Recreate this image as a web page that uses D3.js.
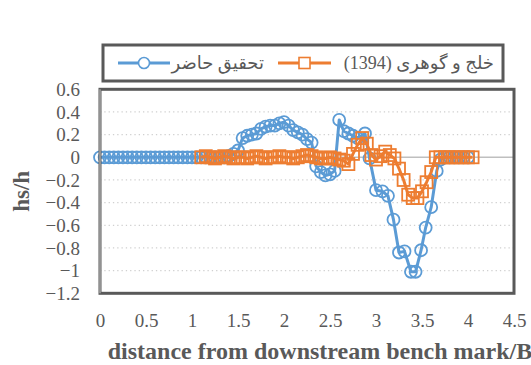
<!DOCTYPE html>
<html>
<head>
<meta charset="utf-8">
<script src="https://cdnjs.cloudflare.com/ajax/libs/d3/7.8.5/d3.min.js"></script>
<style>
  body { margin: 0; background: #fff; }
  svg text { font-family: "Liberation Serif", "DejaVu Sans", serif; }
</style>
</head>
<body>
<div id="chart"></div>
<script>
// series data: distance/B and hs/h
var blueX = [0,0.05,0.1,0.15,0.2,0.25,0.3,0.35,0.4,0.45,0.5,0.55,0.6,0.65,0.7,0.75,0.8,0.85,0.9,0.95,1,
  1.05,1.1,1.15,1.2,1.25,1.3,1.35,1.4,1.45,1.5,1.55,1.6,1.65,1.7,1.75,1.8,1.85,1.9,1.95,2,2.05,2.1,2.15,2.2,2.25,2.3,
  2.35,2.4,2.45,2.5,2.55,2.6,2.65,2.7,2.75,2.8,2.88,2.93,3,3.07,3.13,3.19,3.25,3.31,3.38,3.43,3.49,3.54,3.6,3.66,3.7,
  3.75,3.8,3.85,3.9,3.95,4];
var blueY = [0,0,0,0,0,0,0,0,0,0,0,0,0,0,0,0,0,0,0,0,0,
  0,0,0,0,0,0,0,0.01,0.03,0.06,0.17,0.19,0.2,0.21,0.25,0.27,0.28,0.28,0.3,0.31,0.28,0.24,0.22,0.2,0.16,0.13,
  -0.08,-0.13,-0.16,-0.15,-0.12,0.33,0.23,0.21,0.19,0.17,0.21,-0.01,-0.29,-0.3,-0.34,-0.55,-0.84,-0.83,-1.01,-1.01,-0.82,-0.62,-0.44,-0.12,-0.02,
  0,0,0,0,0,0];

var orangeX = [1.1,1.15,1.2,1.25,1.3,1.35,1.4,1.45,1.5,1.55,1.6,1.65,1.7,1.75,1.8,1.85,1.9,1.95,2,2.05,2.1,2.15,2.2,2.25,2.3,2.35,2.4,2.45,
  2.5,2.55,2.6,2.65,2.7,2.75,2.8,2.85,2.9,2.95,3,3.05,3.1,3.15,3.2,3.25,3.3,3.35,3.4,3.45,3.5,3.55,3.6,3.65,
  3.7,3.75,3.8,3.85,3.9,3.95,4,4.05];
var orangeY = [0,0.01,0,-0.01,0,0.01,0,-0.01,0,0,-0.01,0,0.01,0,-0.01,0,0,0.01,0,0,-0.01,0,0.01,0.02,0.01,0,-0.01,-0.01,
  0,-0.01,-0.02,-0.03,-0.06,0.03,0.11,0.17,0.12,0.02,-0.02,0.01,0.05,0.02,-0.01,-0.1,-0.2,-0.33,-0.36,-0.36,-0.3,-0.22,-0.13,0,
  0,0,0,0,0,0,0,0];

var xTicks = [0,0.5,1,1.5,2,2.5,3,3.5,4,4.5];
var yTicks = [0.6,0.4,0.2,0,-0.2,-0.4,-0.6,-0.8,-1,-1.2];
var seriesNames = ["تحقیق حاضر", "خلج و گوهری (1394)"];

var W = 531, H = 365;
var plotL = 100, plotR = 514, plotT = 89.3, plotB = 293.3;
var grey = "#595959";

var svg = d3.select("#chart").append("svg").attr("width", W).attr("height", H);

var x = d3.scaleLinear().domain([0, 4.5]).range([plotL, plotR]);
var y = d3.scaleLinear().domain([-1.2, 0.6]).range([plotB, plotT]);

// gridlines
svg.append("g").selectAll("line")
  .data(yTicks.filter(function(d){ return d !== 0; }))
  .enter().append("line")
  .attr("x1", plotL).attr("x2", plotR)
  .attr("y1", function(d){ return y(d); }).attr("y2", function(d){ return y(d); })
  .attr("stroke", "#d0d0d0").attr("stroke-width", 1.3).attr("stroke-dasharray", "1.3,3");

// zero axis line
svg.append("line")
  .attr("x1", plotL).attr("x2", plotR).attr("y1", y(0)).attr("y2", y(0))
  .attr("stroke", "#bfbfbf").attr("stroke-width", 1.5);

// y axis
var yAxis = svg.append("g").attr("transform", "translate(" + (plotL - 12) + ",0)")
  .call(d3.axisLeft(y).tickValues(yTicks).tickSize(0).tickFormat(d3.format("")));
yAxis.select(".domain").remove();
yAxis.selectAll("text").attr("font-size", 19).attr("fill", grey).attr("dy", "0.32em").attr("x", -8);

// x axis
var xAxis = svg.append("g").attr("transform", "translate(0," + (plotB + 14) + ")")
  .call(d3.axisBottom(x).tickValues(xTicks).tickSize(0).tickFormat(d3.format("")));
xAxis.select(".domain").remove();
xAxis.selectAll("text").attr("font-size", 19).attr("fill", grey).attr("dy", "0.71em").attr("y", 6);

// axis titles
svg.append("text").attr("x", 320).attr("y", 359)
  .attr("text-anchor", "middle").attr("font-size", 24).attr("font-weight", "bold").attr("fill", grey)
  .text("distance from downstream bench mark/B");
svg.append("text").attr("transform", "translate(29," + ((plotT + plotB) / 2) + ") rotate(-90)")
  .attr("text-anchor", "middle").attr("font-size", 23).attr("font-weight", "bold").attr("fill", grey)
  .text("hs/h");

var line = d3.line().x(function(d){ return x(d[0]); }).y(function(d){ return y(d[1]); });

var blue = blueX.map(function(v, i){ return [v, blueY[i]]; });
var orange = orangeX.map(function(v, i){ return [v, orangeY[i]]; });

// blue series
svg.append("path").datum(blue).attr("d", line)
  .attr("fill", "none").attr("stroke", "#5B9BD5").attr("stroke-width", 3).attr("stroke-linejoin", "round");
svg.append("g").selectAll("circle").data(blue).enter().append("circle")
  .attr("cx", function(d){ return x(d[0]); }).attr("cy", function(d){ return y(d[1]); })
  .attr("r", 6).attr("fill", "none").attr("stroke", "#5B9BD5").attr("stroke-width", 1.8);

// orange series
svg.append("path").datum(orange).attr("d", line)
  .attr("fill", "none").attr("stroke", "#ED7D31").attr("stroke-width", 3).attr("stroke-linejoin", "round");
svg.append("g").selectAll("rect").data(orange).enter().append("rect")
  .attr("x", function(d){ return x(d[0]) - 6; }).attr("y", function(d){ return y(d[1]) - 6; })
  .attr("width", 12).attr("height", 12).attr("fill", "none").attr("stroke", "#ED7D31").attr("stroke-width", 1.8);

// plot frame
svg.append("rect").attr("x", plotL).attr("y", plotT).attr("width", plotR - plotL).attr("height", plotB - plotT)
  .attr("fill", "none").attr("stroke", grey).attr("stroke-width", 3);
svg.append("line").attr("x1", plotL).attr("x2", plotL).attr("y1", plotT).attr("y2", plotB)
  .attr("stroke", "#a6a6a6").attr("stroke-width", 1.5);

// legend
var lg = svg.append("g");
lg.append("rect").attr("x", 103).attr("y", 45).attr("width", 400).attr("height", 36)
  .attr("fill", "#fff").attr("stroke", grey).attr("stroke-width", 3);
var items = [
  {name: seriesNames[0], color: "#5B9BD5", x1: 118, x2: 170, textX: 264, marker: "circle"},
  {name: seriesNames[1], color: "#ED7D31", x1: 278, x2: 331, textX: 494, marker: "square"}
];
items.forEach(function(it){
  var ly = 63;
  lg.append("line").attr("x1", it.x1).attr("x2", it.x2).attr("y1", ly).attr("y2", ly)
    .attr("stroke", it.color).attr("stroke-width", 3);
  var cx = (it.x1 + it.x2) / 2;
  if (it.marker === "circle") {
    lg.append("circle").attr("cx", cx).attr("cy", ly).attr("r", 5.5)
      .attr("fill", "#fff").attr("stroke", it.color).attr("stroke-width", 1.6);
  } else {
    lg.append("rect").attr("x", cx - 5.5).attr("y", ly - 5.5).attr("width", 11).attr("height", 11)
      .attr("fill", "#fff").attr("stroke", it.color).attr("stroke-width", 1.6);
  }
  lg.append("text").attr("x", it.textX).attr("y", ly).attr("dy", "0.35em")
    .attr("direction", "rtl").attr("text-anchor", "start")
    .attr("font-size", 18).attr("fill", grey).text(it.name);
});
</script>
</body>
</html>
